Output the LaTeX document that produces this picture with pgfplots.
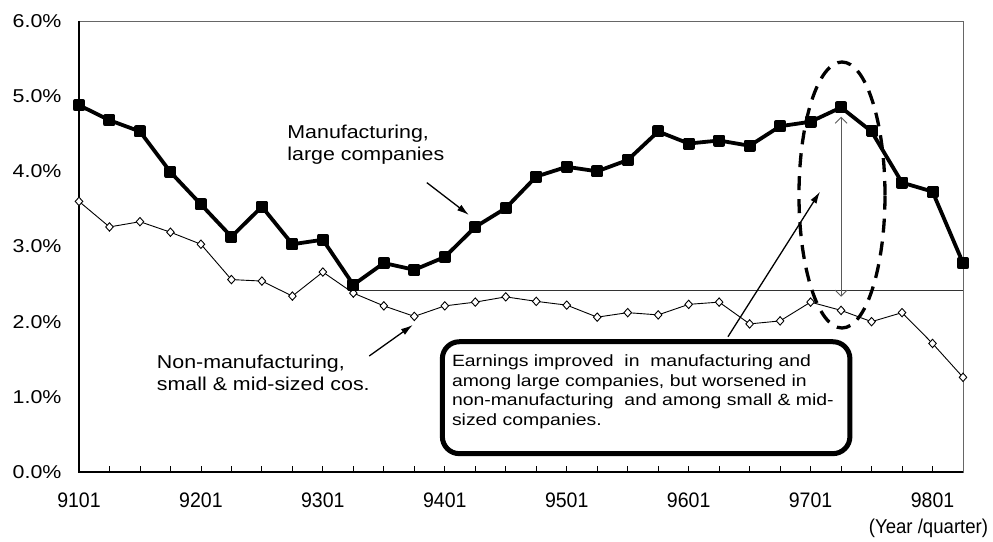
\documentclass[border=0pt]{standalone}
\usepackage{fontspec}
\setmainfont{Liberation Sans}
\newfontfamily\annfont{Liberation Sans}[FakeStretch=1.15]
\newfontfamily\boxfont{Liberation Sans}[FakeStretch=1.19]
\newfontfamily\tickfont{Liberation Sans}[FakeStretch=0.93]
\usepackage{pgfplots}
\usepackage{pgfplotstable}
\pgfplotsset{compat=1.18}
\usetikzlibrary{arrows.meta}

% Ratio of current profits to sales, quarterly 1991 Q1 - 1998 Q2
\pgfplotstableread{
idx mfg nonmfg
0  4.88 3.60
1  4.68 3.26
2  4.53 3.33
3  3.99 3.19
4  3.56 3.03
5  3.13 2.56
6  3.53 2.54
7  3.03 2.34
8  3.09 2.66
9  2.49 2.38
10 2.78 2.21
11 2.69 2.07
12 2.86 2.21
13 3.26 2.26
14 3.51 2.33
15 3.93 2.27
16 4.06 2.22
17 4.00 2.06
18 4.15 2.12
19 4.53 2.09
20 4.37 2.23
21 4.41 2.26
22 4.34 1.97
23 4.60 2.01
24 4.66 2.26
25 4.85 2.15
26 4.53 2.00
27 3.85 2.12
28 3.73 1.71
29 2.78 1.26
}\ratios

\begin{document}
\begin{tikzpicture}
\begin{axis}[
  name=ax,
  scale only axis,
  width=884pt, height=451pt,
  xmin=0, xmax=29, ymin=0, ymax=6,
  clip=false,
  axis line style={draw=gray!80!black, line width=0.8pt},
  xtick={0,4,...,28},
  xticklabels={9101,9201,9301,9401,9501,9601,9701,9801},
  minor xtick={0,...,29},
  xtick pos=bottom,
  tick align=inside,
  major tick length=6pt, minor tick length=6pt,
  xtick style={black, line width=0.8pt},
  every minor tick/.style={black, line width=0.8pt},
  ytick={0,1,...,6},
  yticklabels={0.0\%,1.0\%,2.0\%,3.0\%,4.0\%,5.0\%,6.0\%},
  ytick style={draw=none},
  /pgf/number format/assume math mode=true,
  xticklabel style={font=\tickfont\fontsize{21}{24}\selectfont, anchor=north, inner sep=0pt, yshift=-20.5pt},
  yticklabel style={font=\annfont\fontsize{18.6}{22}\selectfont, anchor=east, inner sep=0pt, xshift=-17.3pt},
]
\addplot[black, line width=0.9pt, mark=diamond*, mark size=4.2pt,
  mark options={fill=white, line width=0.9pt, xscale=1.2}]
  table[x=idx, y=nonmfg] {\ratios};
\addplot[black, line width=3.8pt, line join=round, mark=square*, mark size=4.1pt,
  mark options={solid}]
  table[x=idx, y=mfg] {\ratios};

% left and bottom axis lines are heavier than the frame
\draw[black, line width=2pt] (rel axis cs:0,1) -- (rel axis cs:0,0) -- (rel axis cs:1,0);

% reference level and gap at the 1997 Q2 peak
\draw[black!80, line width=0.8pt] (axis cs:9,2.412) -- (axis cs:29,2.412);
\draw[gray!70!black, line width=0.9pt,
  {Straight Barb[length=6pt,width=12pt]}-{Straight Barb[length=6pt,width=12pt]}]
  (axis cs:25,4.727) -- (axis cs:25,2.332);
\draw[black, line width=3.3pt, dash pattern=on 14pt off 9pt]
  (axis cs:25.03,3.685) ellipse [x radius=43pt, y radius=133pt];

% series labels
\node[font=\annfont\fontsize{18.6}{22}\selectfont, anchor=base west, inner sep=0pt]
  at (axis cs:6.83,4.44) {Manufacturing,};
\node[font=\annfont\fontsize{18.6}{22}\selectfont, anchor=base west, inner sep=0pt]
  at (axis cs:6.83,4.14) {large companies};
\draw[black, line width=1.3pt, -{Latex[length=12pt,width=7pt]}]
  (axis cs:11.41,3.85) -- (axis cs:12.79,3.42);

\node[font=\annfont\fontsize{18.6}{22}\selectfont, anchor=base west, inner sep=0pt]
  at (axis cs:2.55,1.38) {Non-manufacturing,};
\node[font=\annfont\fontsize{18.6}{22}\selectfont, anchor=base west, inner sep=0pt]
  at (axis cs:2.55,1.09) {small \& mid-sized cos.};
\draw[black, line width=1.3pt, -{Latex[length=12pt,width=7pt]}]
  (axis cs:9.52,1.543) -- (axis cs:10.95,1.956);

% comment box
\draw[black, line width=5pt, fill=white, rounded corners=17pt]
  (axis cs:11.92,1.733) rectangle (axis cs:25.29,0.244);
\draw[black, line width=1.3pt, -{Latex[length=12pt,width=7pt]}]
  (axis cs:21.29,1.80) -- (axis cs:24.31,3.73);
\node[font=\boxfont\fontsize{16.3}{20}\selectfont, anchor=base west, inner sep=0pt]
  at (axis cs:12.23,1.41) {Earnings improved\ \ in\ \ manufacturing and};
\node[font=\boxfont\fontsize{16.3}{20}\selectfont, anchor=base west, inner sep=0pt]
  at (axis cs:12.23,1.144) {among large companies, but worsened in};
\node[font=\boxfont\fontsize{16.3}{20}\selectfont, anchor=base west, inner sep=0pt]
  at (axis cs:12.23,0.878) {non-manufacturing\ \ and among small \& mid-};
\node[font=\boxfont\fontsize{16.3}{20}\selectfont, anchor=base west, inner sep=0pt]
  at (axis cs:12.23,0.616) {sized companies.};

% unit note under the axis
\node[font=\tickfont\fontsize{20}{24}\selectfont, anchor=base east, inner sep=0pt]
  at ([shift={(25.3pt,-61.3pt)}]axis cs:29,0) {(Year /quarter)};
\end{axis}
\pgfresetboundingbox
\path ([shift={(-79pt,-70pt)}]ax.south west) rectangle ([shift={(30pt,21pt)}]ax.north east);
\end{tikzpicture}
\end{document}
